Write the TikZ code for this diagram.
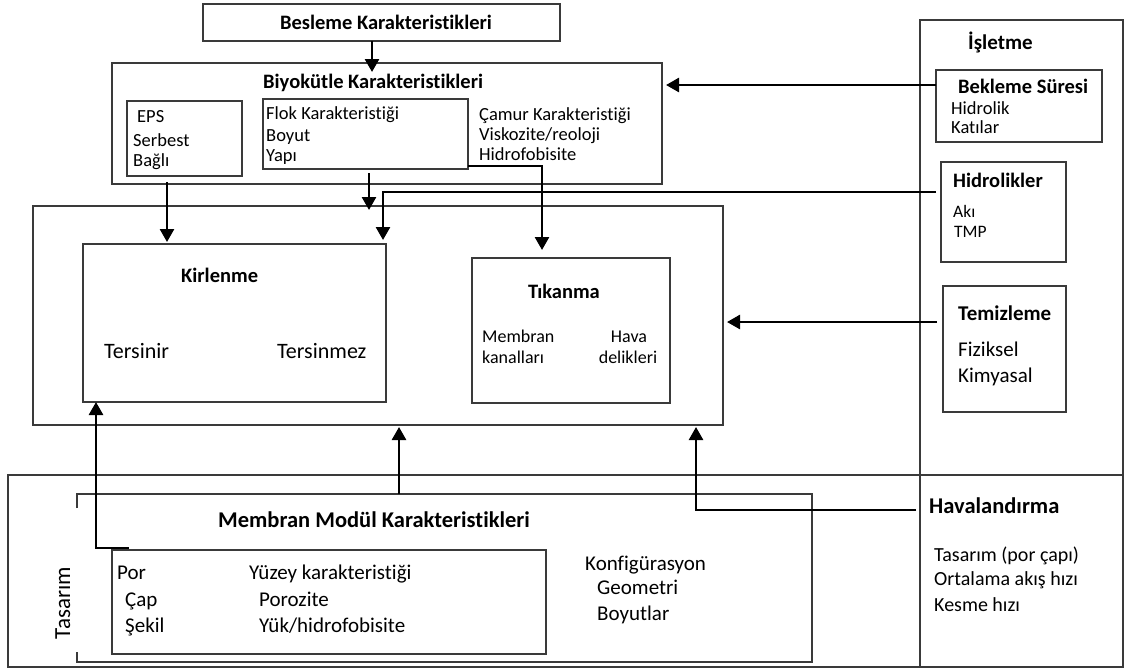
\documentclass[tikz,border=0pt]{standalone}
\usepackage{fontspec}
\setmainfont{Carlito}[Ligatures=NoCommon]
\usetikzlibrary{arrows.meta}
\definecolor{boxc}{HTML}{3A3A3A}
\begin{document}
\begin{tikzpicture}[x=1pt,y=-1pt,
  box/.style={draw=boxc,line width=1.3pt,anchor=north west,inner sep=0pt,outer sep=0pt},
  arr/.style={line width=2.6pt,-{Triangle[length=13pt,width=14pt]}},
  tx/.style={anchor=base west,inner sep=0pt,font=\fontsize{#1}{#1}\selectfont},
  tb/.style={anchor=base west,inner sep=0pt,font=\bfseries\fontsize{#1}{#1}\selectfont},
]
\useasboundingbox (0,0) rectangle (1126,670);
\fill[white] (0,0) rectangle (1126,670);

% ---- boxes
\node[box,minimum width=357pt,minimum height=37pt] (besleme) at (203,4) {};
\node[box,minimum width=550pt,minimum height=121pt] (biyo) at (112,63) {};
\node[box,minimum width=115pt,minimum height=75pt] (eps) at (127,101) {};
\node[box,minimum width=205pt,minimum height=70pt] (flok) at (263,99) {};
\node[box,minimum width=690pt,minimum height=219pt] (mid) at (33,206) {};
\node[box,minimum width=303pt,minimum height=158pt] (kir) at (83,244) {};
\node[box,minimum width=198pt,minimum height=145pt] (tik) at (472,258) {};
\node[box,minimum width=203pt,minimum height=647pt] (isl) at (920,20) {};
\node[box,minimum width=166pt,minimum height=72pt] (bek) at (936,70) {};
\node[box,minimum width=125pt,minimum height=100pt] (hid) at (941,162) {};
\node[box,minimum width=123pt,minimum height=126pt] (tem) at (943,286) {};
\node[box,minimum width=1115pt,minimum height=192pt] (tas) at (8,475) {};
\node[box,draw=none,minimum width=735pt,minimum height=168pt] (mod) at (77,494) {};
\draw[draw=boxc,line width=1.3pt] ([yshift=-14pt]mod.north west) -- (mod.north west) -- (mod.north east) -- (mod.south east) -- (mod.south west) -- ([yshift=10pt]mod.south west);
\node[box,minimum width=434pt,minimum height=104pt] (por) at (112,550) {};

% ---- titles
\node[tb=20.5,anchor=base] (tbes) at (386,29.5) {Besleme Karakteristikleri};
\node[tb=20.5] (tbiyo) at (263,88) {Biyokütle Karakteristikleri};
\node[tb=20.5] (tkir) at (181,282) {Kirlenme};
\node[tb=20.5] (ttik) at (528,298) {Tıkanma};
\node[tb=21] (tisl) at (968,49) {İşletme};
\node[tb=20.5] (tbek) at (958,93) {Bekleme Süresi};
\node[tb=20.5] (thid) at (953,187) {Hidrolikler};
\node[tb=21] (ttem) at (958,320) {Temizleme};
\node[tb=22.5] (tmod) at (218,527) {Membran Modül Karakteristikleri};
\node[tb=22.5] (thav) at (929,513) {Havalandırma};

% ---- texts
\node[tx=18.5] (e1) at (137,122) {EPS};
\node[tx=18.5] (e2) at (133,146) {Serbest};
\node[tx=18.5] (e3) at (133,166) {Bağlı};
\node[tx=18.5] (f1) at (266,119) {Flok Karakteristiği};
\node[tx=18.5] (f2) at (266,141) {Boyut};
\node[tx=18.5] (f3) at (266,161) {Yapı};
\node[tx=18.5] (c1) at (479,120) {Çamur Karakteristiği};
\node[tx=18.5] (c2) at (479,140) {Viskozite/reoloji};
\node[tx=18.5] (c3) at (479,160) {Hidrofobisite};
\node[tx=22] (k1) at (104,358) {Tersinir};
\node[tx=22] (k2) at (277,358) {Tersinmez};
\node[tx=18] (m1) at (482,342) {Membran};
\node[tx=18] (m2) at (482,363) {kanalları};
\node[tx=18,anchor=base] (m3) at (629,342) {Hava};
\node[tx=18,anchor=base] (m4) at (628,363) {delikleri};
\node[tx=18.5] (b1) at (951,114) {Hidrolik};
\node[tx=18.5] (b2) at (951,133) {Katılar};
\node[tx=17.5] (h1) at (953,217) {Akı};
\node[tx=17.5] (h2) at (954,237) {TMP};
\node[tx=21] (z1) at (958,356) {Fiziksel};
\node[tx=21] (z2) at (958,382) {Kimyasal};
\node[tx=21] (p1) at (117,579) {Por};
\node[tx=21] (p2) at (125,606) {Çap};
\node[tx=21] (p3) at (125,632) {Şekil};
\node[tx=21] (p4) at (249,579) {Yüzey karakteristiği};
\node[tx=21] (p5) at (259,606) {Porozite};
\node[tx=21] (p6) at (259,632) {Yük/hidrofobisite};
\node[tx=21] (g1) at (585,570) {Konfigürasyon};
\node[tx=21] (g2) at (597,594) {Geometri};
\node[tx=21] (g3) at (597,620) {Boyutlar};
\node[tx=20] (v1) at (934,561) {Tasarım (por çapı)};
\node[tx=20] (v2) at (934,585) {Ortalama akış hızı};
\node[tx=20] (v3) at (934,611) {Kesme hızı};
\node[tx=23,anchor=base,rotate=90] (tasr) at (70,603) {Tasarım};

% ---- connectors
\coordinate (havin) at (916,510);
\draw[arr] ([xshift=-9.5pt]besleme.south) -- ++(0,31);
\draw[arr] ([xshift=-17.5pt,yshift=-6pt]eps.south) -- ++(0,60);
\draw[arr] ([xshift=3.5pt,yshift=-4pt]flok.south) -- ++(0,37);
\draw[arr] ([xshift=-5pt,yshift=20pt]hid.west) -| ([xshift=-3pt,yshift=4pt]kir.north east);
\draw[arr] ([yshift=3pt]flok.south east) -| ([xshift=-29pt,yshift=8pt]tik.north);
\draw[arr] ([yshift=21pt]bek.west) -- ++(-270,0);
\draw[arr] ([xshift=-6pt,yshift=27pt]tem.west) -- ++(-210,0);
\draw[arr] ([xshift=17pt,yshift=2pt]por.north west) -| ([xshift=13pt]kir.south west);
\draw[arr] ([xshift=-45.5pt]mod.north) -- ++(0,-67);
\draw[arr] (havin) -| ([xshift=318pt,yshift=-2pt]mid.south);
\end{tikzpicture}
\end{document}
